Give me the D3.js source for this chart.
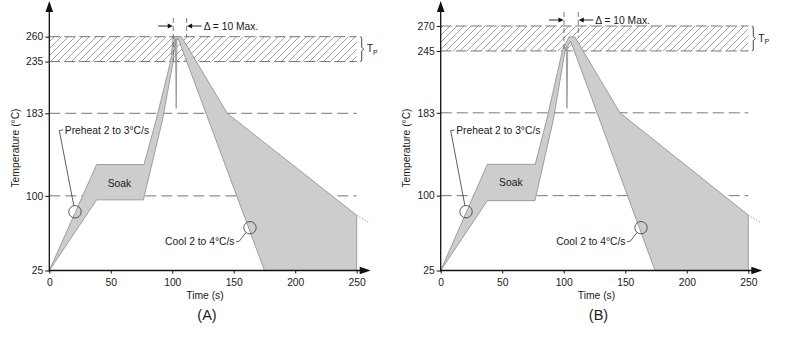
<!DOCTYPE html>
<html><head><meta charset="utf-8">
<script src="https://cdn.jsdelivr.net/npm/d3@7"></script>
<style>
body{margin:0;background:#fff}
svg{display:block}
text{font-family:"Liberation Sans",Arial,Helvetica,sans-serif;fill:#1a1a1a}
</style>
</head><body>
<svg id="chart" width="800" height="342"></svg>
<script>
// ---------- data ----------
const panelNames = ["(A)", "(B)"];
const timeTicks = [0, 50, 100, 150, 200, 250];
const tempTicksA = [25, 100, 183, 235, 260];
const tempTicksB = [25, 100, 183, 245, 270];
const peakBandA = [235, 260];
const peakBandB = [245, 270];
const refLevels = [100, 183];
// reflow profile envelope [time s, temperature °C]
const profileA = [
  [0,25],[38.5,131.5],[77,131.5],[86.8,176],[98.7,235.4],[100.8,260],[107.5,260],
  [144.7,183],[250,80.5],[250,25],[175,25],[104.9,258],[103.8,258],[103.2,188],
  [102.6,258],[102.2,257],[100.8,235.4],[92,176],[76.5,96],[38.5,96],[0,25]
];
const profileB = [
  [0,25],[37.9,131.4],[76.8,131.4],[86.1,175.8],[99,246],[104.2,259],[109,259],
  [145.7,183],[250,80.5],[250,25],[174.2,25],[105.6,255],[103.3,250],[102.6,187.5],
  [102.1,249],[101.2,246],[91.5,175.8],[76.6,95],[37.9,95],[0,25]
];
const coolTailA = [[250,80.5],[260,73]];
const coolTailB = [[250,80.5],[260,73]];
const deltaA = [100.8, 111.7];
const deltaB = [100.2, 111.8];
const preheatMarkA = [20.9, 84];
const coolMarkA = [163.2, 68];
const preheatMarkB = [20.6, 83.9];
const coolMarkB = [162.8, 67.9];
const textPreheat = "Preheat 2 to 3°C/s";
const textSoak = "Soak";
const textCool = "Cool 2 to 4°C/s";
const textDelta = "Δ = 10 Max.";
const textTime = "Time (s)";
const textTemp = "Temperature (°C)";
const soakLabelPos = [57, 113];

// ---------- drawing ----------
const svg = d3.select("#chart");
const defs = svg.append("defs");
const pat = defs.append("pattern").attr("id","hatch").attr("patternUnits","userSpaceOnUse")
  .attr("width",7).attr("height",7);
pat.append("path").attr("d","M-1,1 l2,-2 M0,7 l7,-7 M6,8 l2,-2")
  .attr("stroke","#8a8a8a").attr("stroke-width",0.8);

const FS = 10.3;

function drawPanel(cfg){
  const g = svg.append("g");
  const x = d3.scaleLinear().domain([0,250]).range(cfg.xr);
  const y = d3.scaleLinear().domain(cfg.yd).range(cfg.yr);
  const x0 = x(0), x1 = x(250), y0 = y(cfg.yd[0]);

  // hatched peak band
  const band = cfg.band;
  g.append("rect").attr("x",x0).attr("y",y(band[1])).attr("width",x1-x0)
    .attr("height",y(band[0])-y(band[1])).attr("fill","url(#hatch)");
  band.forEach(v=>{
    g.append("line").attr("x1",x0).attr("x2",x1).attr("y1",y(v)).attr("y2",y(v))
      .attr("stroke","#666").attr("stroke-width",0.9).attr("stroke-dasharray","11,4");
  });
  // reference dashed levels
  refLevels.forEach(v=>{
    g.append("line").attr("x1",x0).attr("x2",x1).attr("y1",y(v)).attr("y2",y(v))
      .attr("stroke","#666").attr("stroke-width",0.9).attr("stroke-dasharray","11,5");
  });

  // profile envelope
  const line = d3.line().x(d=>x(d[0])).y(d=>y(d[1]));
  g.append("path").attr("d",line(cfg.profile)+"Z").attr("fill","#cdcdcd")
    .attr("stroke","#8c8c8c").attr("stroke-width",0.8).attr("stroke-linejoin","round");
  g.append("path").attr("d",line(cfg.tail)).attr("fill","none")
    .attr("stroke","#999").attr("stroke-width",0.9).attr("stroke-dasharray","1.5,1.5");

  // delta markers
  const peakT = d3.max(cfg.profile, d=>d[1]);
  const dy = cfg.deltaY;
  const xl = x(cfg.delta[0]), xr = x(cfg.delta[1]);
  g.append("line").attr("x1",xl).attr("x2",xl).attr("y1",dy-8).attr("y2",y(band[0]))
    .attr("stroke","#555").attr("stroke-width",0.8).attr("stroke-dasharray","5,3");
  g.append("line").attr("x1",xr).attr("x2",xr).attr("y1",dy-8).attr("y2",y(peakT))
    .attr("stroke","#555").attr("stroke-width",0.8).attr("stroke-dasharray","5,3");
  g.append("line").attr("x1",xl-15).attr("x2",xl-4).attr("y1",dy).attr("y2",dy).attr("stroke","#111").attr("stroke-width",0.9);
  g.append("path").attr("d",`M${xl-0.5},${dy} l-5,-2.5 v5 Z`).attr("fill","#111");
  g.append("line").attr("x1",xr+4).attr("x2",xr+15).attr("y1",dy).attr("y2",dy).attr("stroke","#111").attr("stroke-width",0.9);
  g.append("path").attr("d",`M${xr+0.5},${dy} l5,-2.5 v5 Z`).attr("fill","#111");
  g.append("text").attr("x",xr+17).attr("y",dy).attr("dy","0.35em")
    .attr("font-size",FS).text(textDelta);

  // T_P brace
  const bx = x1+5, bt = y(band[1]), bb = y(band[0]), bm = (bt+bb)/2;
  g.append("path").attr("d",`M${bx-1.5},${bt} Q${bx},${bt} ${bx},${bt+2} V${bm-2} L${bx+2},${bm} L${bx},${bm+2} V${bb-2} Q${bx},${bb} ${bx-1.5},${bb}`)
    .attr("fill","none").attr("stroke","#111").attr("stroke-width",0.8);
  const tp = g.append("text").attr("x",bx+5).attr("y",bm).attr("dy","0.3em").attr("font-size",FS);
  tp.append("tspan").text("T");
  tp.append("tspan").attr("font-size",7).attr("dy","2.5").text("P");

  // axes
  const ax = g.append("g").attr("transform",`translate(0,${y0})`)
    .call(d3.axisBottom(x).tickValues(timeTicks).tickSize(3).tickSizeOuter(0).tickPadding(5));
  ax.select(".domain").remove();
  ax.selectAll("text").attr("font-size",FS).attr("font-family","Liberation Sans, Arial, sans-serif").attr("fill","#1a1a1a");
  ax.selectAll("line").attr("stroke","#111");
  const ay = g.append("g").attr("transform",`translate(${x0},0)`)
    .call(d3.axisLeft(y).tickValues(cfg.ticks).tickSize(4).tickSizeOuter(0).tickPadding(2));
  ay.select(".domain").remove();
  ay.selectAll("text").attr("font-size",FS).attr("font-family","Liberation Sans, Arial, sans-serif").attr("fill","#1a1a1a");
  ay.selectAll("line").attr("stroke","#111");

  g.append("line").attr("x1",x0).attr("x2",x1+8).attr("y1",y0).attr("y2",y0).attr("stroke","#111").attr("stroke-width",1.3);
  g.append("path").attr("d",`M${x1+14},${y0} l-11,-3.8 v7.6 Z`).attr("fill","#111");
  g.append("line").attr("x1",x0).attr("x2",x0).attr("y1",y0+1).attr("y2",8).attr("stroke","#111").attr("stroke-width",1.3);
  g.append("path").attr("d",`M${x0},1 l-3.8,11 h7.6 Z`).attr("fill","#111");

  // axis titles
  const cx = (x0+x1)/2;
  g.append("text").attr("x",cx+2).attr("y",299).attr("text-anchor","middle").attr("font-size",FS).text(textTime);
  g.append("text").attr("x",cx+4).attr("y",320).attr("text-anchor","middle").attr("font-size",14.5).text(cfg.name);
  g.append("text").attr("transform",`translate(${x0-34},148) rotate(-90)`).attr("dy","0.35em")
    .attr("text-anchor","middle").attr("font-size",FS).text(textTemp);

  // soak label
  g.append("text").attr("x",x(soakLabelPos[0])).attr("y",y(soakLabelPos[1])).attr("dy","0.35em")
    .attr("text-anchor","middle").attr("font-size",FS).text(textSoak);

  // preheat annotation
  const r = 6.2;
  const pcx = x(cfg.pre[0]), pcy = y(cfg.pre[1]);
  g.append("circle").attr("cx",pcx).attr("cy",pcy).attr("r",r).attr("fill","none").attr("stroke","#333").attr("stroke-width",0.8);
  const hx = x0+10, hy = 130.5;
  const ang = Math.atan2(hy-pcy, hx-pcx);
  g.append("path").attr("d",`M${hx+4},${hy-0.6} L${hx},${hy} L${pcx+r*Math.cos(ang)},${pcy+r*Math.sin(ang)}`)
    .attr("fill","none").attr("stroke","#333").attr("stroke-width",0.8);
  g.append("text").attr("x",hx+5.5).attr("y",hy).attr("dy","0.35em").attr("font-size",FS).text(textPreheat);

  // cool annotation
  const ccx = x(cfg.cool[0]), ccy = y(cfg.cool[1]);
  g.append("circle").attr("cx",ccx).attr("cy",ccy).attr("r",r).attr("fill","none").attr("stroke","#333").attr("stroke-width",0.8);
  const ex = ccx-14, ey = 241.8;
  const ang2 = Math.atan2(ey-1-ccy, ex+3.3-ccx);
  g.append("path").attr("d",`M${ex},${ey} L${ex+3.3},${ey-0.6} L${ccx+r*Math.cos(ang2)},${ccy+r*Math.sin(ang2)}`)
    .attr("fill","none").attr("stroke","#333").attr("stroke-width",0.8);
  g.append("text").attr("x",ex-1.5).attr("y",ey).attr("dy","0.35em").attr("text-anchor","end").attr("font-size",FS).text(textCool);
}

drawPanel({name:panelNames[0], xr:[49.3,356.7], yd:[25,260], yr:[270.5,36.7], ticks:tempTicksA,
  band:peakBandA, profile:profileA, tail:coolTailA, delta:deltaA, deltaY:26, pre:preheatMarkA, cool:coolMarkA});
drawPanel({name:panelNames[1], xr:[440.7,748.3], yd:[25,270], yr:[270.5,26], ticks:tempTicksB,
  band:peakBandB, profile:profileB, tail:coolTailB, delta:deltaB, deltaY:20, pre:preheatMarkB, cool:coolMarkB});
</script>
</body></html>
